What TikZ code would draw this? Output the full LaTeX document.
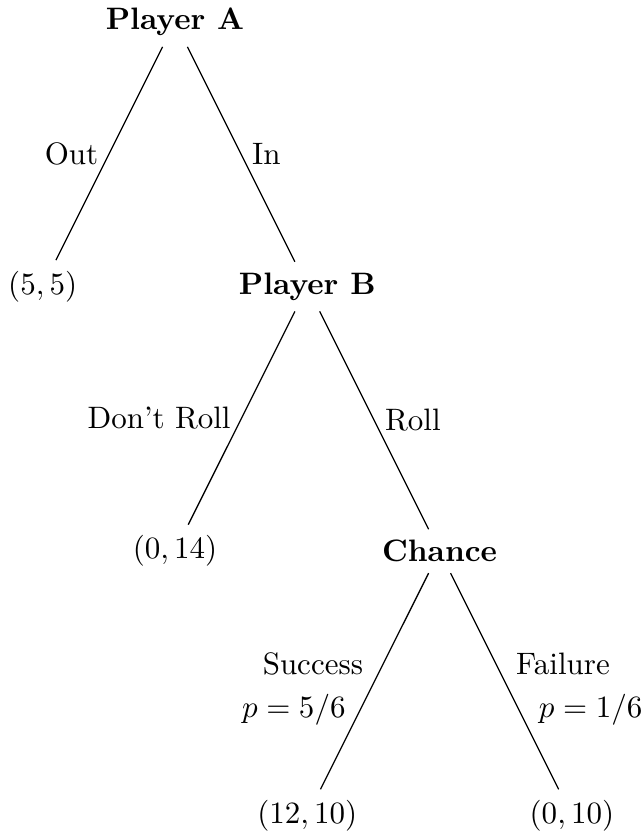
\documentclass[tikz,border=0pt]{standalone}
\usepackage{amsmath}
\usepackage{tikz}
\usetikzlibrary{positioning}
\tikzset{player/.style={font=\bfseries}, payoff/.style={}}

\begin{document}
\begin{tikzpicture}
			\useasboundingbox (-1.984,-9.184) rectangle (5.283,0.249);
			% draw node
			\node[player] (PA) at (0,0) {Player A};
			\node[payoff] (P55) at (-1.5,-3) {$(5,5)$};
			\node[player] (PB) at (1.5,-3) {Player B};
			\node[payoff] (P014) at (0,-6) {$(0,14)$};
			\node[player] (CH) at (3,-6) {Chance};
			\node[payoff] (P1210) at (1.5,-9) {$(12,10)$};
			\node[payoff] (P010) at (4.5,-9) {$(0,10)$};
			% draw edges
			\draw (PA) -- (P55) node[midway,left] {Out};
			\draw (PA) -- (PB) node[midway,right] {In};
			\draw (PB) -- (P014) node[midway,left] {Don't Roll};
			\draw (PB) -- (CH) node[midway,right] {Roll};
			\draw (CH) -- (P1210) node[pos=.42,left,xshift=-3pt] {Success}
			node[pos=.63,left,xshift=-1.3pt] {$p=5/6$};
			\draw (CH) -- (P010) node[pos=.42,right,xshift=3pt] {Failure}
			node[pos=.63,right,xshift=3pt] {$p=1/6$};
			
		\end{tikzpicture}
\end{document}
